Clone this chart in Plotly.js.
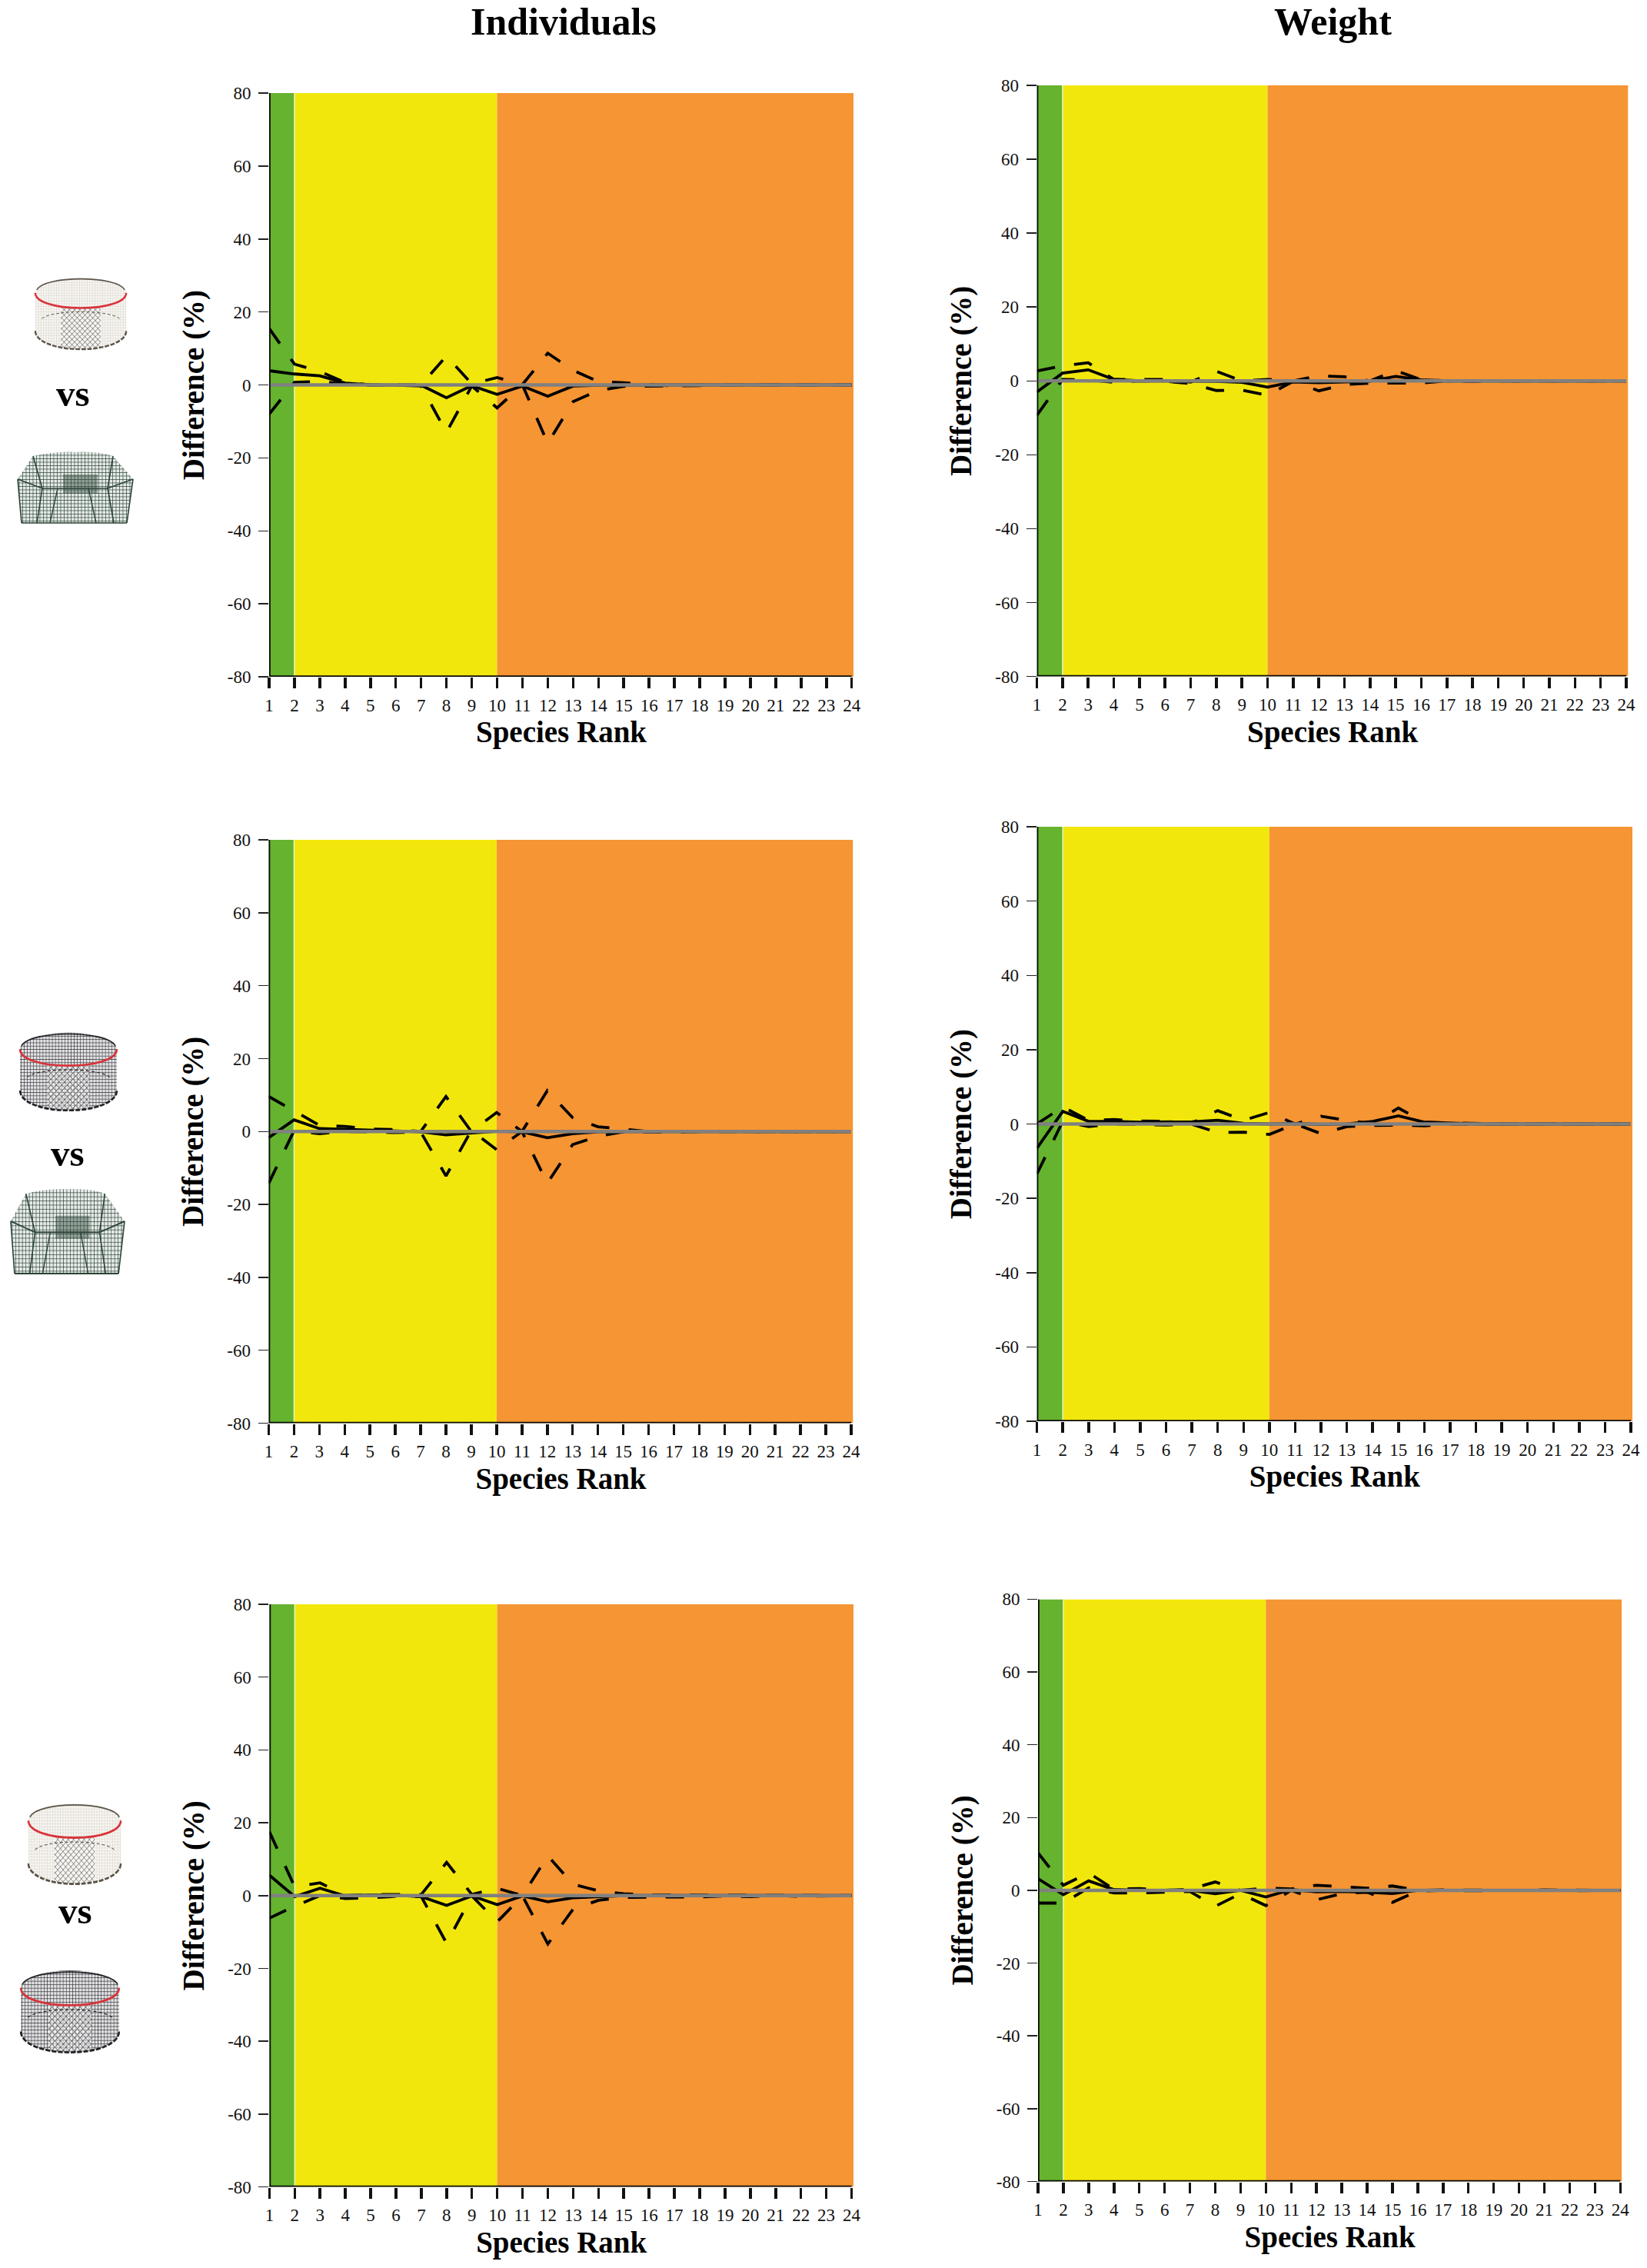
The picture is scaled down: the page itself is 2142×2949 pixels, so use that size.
<!DOCTYPE html>
<html><head><meta charset="utf-8">
<script src="https://cdn.plot.ly/plotly-3.0.1.min.js"></script>
<style>html,body{margin:0;padding:0;background:#fff}</style></head>
<body><div id="chart" style="width:2142px;height:2949px"></div>
<script>
// Data: difference (%) by species rank
var ranks = [1,2,3,4,5,6,7,8,9,10,11,12,13,14,15,16,17,18,19,20,21,22,23,24];
var yTicks = [-80,-60,-40,-20,0,20,40,60,80];
var bandEdges = [1,2,10,24];
var bandColors = ['#65B32E','#F2E70C','#F59533'];

var ind1Mean  = [3.9,3.0,2.5,0.5,0,0,-0.1,-3.5,-0.2,-2.6,-0.3,-3.1,-0.3,-0.1,0,0,0,0,0,0,0,0,0,0];
var ind1Upper = [15.5,5.7,3.7,0.7,0,0.1,0,7.9,0.3,2.0,0.1,8.7,4.0,0.9,0.6,0.1,-0.3,0,0.1,0,0,0,0,0];
var ind1Lower = [-8,0.7,1.0,0.2,-0.1,0,-0.3,-13,-0.3,-6.3,0,-16,-4.6,-1.5,-0.4,-0.3,-0.3,-0.1,0,0,0,0,0,0];

var wt1Mean  = [-3,2.1,3,0.4,0,0,0,-0.1,-0.4,-1.7,-0.3,-0.5,-0.3,-0.1,1.2,0.3,0,0,0,0,0,0,0,0];
var wt1Upper = [2.7,4.1,4.9,0.4,0.4,0.4,-0.3,2.6,0,0.4,0,1.4,1.1,0,2.8,0.3,0,0.1,0,0,0,0,0,0];
var wt1Lower = [-9.3,0.4,0.3,-0.4,0,-0.1,-0.7,-2.6,-2.5,-3.9,-0.1,-2.7,-1,-0.6,-0.6,-0.6,0,-0.1,0,0,0,0,0,0];

var ind2Mean  = [-1.7,3.2,0.8,0.6,0.3,0.2,-0.1,-0.9,-0.4,0.1,-0.1,-1.7,-0.6,-0.1,0,0,0,0,0,0,0,0,0,0];
var ind2Upper = [9.6,5.6,1.7,1.4,0.7,0.5,0,9.6,0,5.2,0,11.2,3.8,1.3,0.6,0,0.1,0,0.1,0,0,0,0,0];
var ind2Lower = [-14.2,0.2,-0.6,0,-0.1,-0.3,-0.1,-12.2,0.3,-5,0,-14.2,-3.6,-1.3,-0.1,-0.2,-0.2,0,0,0,0,0,0,0];

var wt2Mean  = [-6.5,3.4,0.7,0.7,0.5,0.5,0.6,1,0.2,0,0.1,-0.1,0,0.7,2.2,0.5,0.3,0,0,0,0,0,0,0];
var wt2Upper = [0,4.6,1,1.2,0.8,0.7,0.3,3.6,1,3.1,0,2.1,1,0.1,4.3,0.5,0.3,0.1,0,0,0.1,0,0,0];
var wt2Lower = [-13.4,0.7,-0.7,0,-0.1,-0.3,-0.1,-2.3,-2.2,-2.8,0,-2.6,-0.7,-0.4,-0.3,-0.5,0,-0.1,0,0,0,0,0,0];

var ind3Mean  = [5.6,-0.3,2,-0.1,0.2,0.1,-0.3,-2.7,-0.1,-2.5,-0.1,-1.7,-0.6,-0.2,0,0,0,0,0,0,0,0,0,0];
var ind3Upper = [17.5,2.4,3.5,0,0.3,0.3,0.3,9.1,0.3,2,0,10.9,3.1,1.3,0.5,0.2,0.2,0.1,0.1,0,0,0,0,0];
var ind3Lower = [-6.2,-2.9,0,-0.8,-0.6,-0.2,-0.3,-13.1,-0.1,-7.2,-0.1,-13.3,-3.7,-1.3,-0.5,-0.4,-0.4,-0.4,-0.1,-0.3,0,-0.2,0,0];

var wt3Mean  = [3.2,-1.2,2.6,0.2,0,0,0,-0.9,0,-1.8,0.2,-0.4,-0.3,-0.5,-0.9,0,0,0,0,0,0,0,0,0];
var wt3Upper = [10.3,1.4,4.8,0.3,0.5,0,0.3,2.3,0,0.6,0.4,1.4,1,0.6,1.2,0,0.1,0,0.1,0,0.1,0,0,0];
var wt3Lower = [-3.5,-3.5,0.7,-0.7,-0.7,-0.6,-0.3,-4.4,-0.9,-4.2,0,-2.6,-0.9,-0.5,-3.3,-0.2,0,-0.1,0,-0.1,0,-0.1,0,0];

// Panel geometry in page pixels: left (rank 1), rank 24, band right edge, top, bottom
var panels = [
 {mean:ind1Mean,up:ind1Upper,lo:ind1Lower,box:[350,1107.7,1110,121,880]},
 {mean:wt1Mean, up:wt1Upper, lo:wt1Lower, box:[1348.6,2115,2117.5,111,879.5]},
 {mean:ind2Mean,up:ind2Upper,lo:ind2Lower,box:[349.5,1107,1109.5,1092,1850.5]},
 {mean:wt2Mean, up:wt2Upper, lo:wt2Lower, box:[1348.6,2121,2123,1075,1848]},
 {mean:ind3Mean,up:ind3Upper,lo:ind3Lower,box:[350.4,1107.5,1110,2086,2843.5]},
 {mean:wt3Mean, up:wt3Upper, lo:wt3Lower, box:[1350,2107.3,2109.3,2079.4,2836.5]}
];

var W=2142,H=2949,SERIF='"Liberation Serif","Times New Roman",serif';
var traces=[],layout={width:W,height:H,margin:{l:0,r:0,t:0,b:0,pad:0},paper_bgcolor:'#fff',plot_bgcolor:'#fff',showlegend:false,shapes:[],annotations:[],images:[]};
var zeros=ranks.map(function(){return 0;});
var DASH='24px,25px';

panels.forEach(function(p,i){
  var n=i+1,xa='x'+n,ya='y'+n,b=p.box;
  var xMax=24+(b[2]-b[1])/((b[1]-b[0])/23);
  layout['xaxis'+n]={anchor:ya,domain:[b[0]/W,b[2]/W],range:[1,xMax],tickmode:'array',tickvals:ranks,ticktext:ranks.map(String),
    ticks:'outside',ticklen:14,tickwidth:3.5,tickcolor:'#111',showline:false,zeroline:false,showgrid:false,ticklabelstandoff:2,
    tickfont:{family:SERIF,size:23,color:'#111'},tickangle:0,title:{text:'Species Rank',font:{family:SERIF,size:39,color:'#000',weight:'bold'},standoff:9}};
  layout['yaxis'+n]={anchor:xa,domain:[1-b[4]/H,1-b[3]/H],range:[-80,80],tickmode:'array',tickvals:yTicks,ticktext:yTicks.map(String),
    ticks:'outside',ticklen:13,tickwidth:1.5,tickcolor:'#222',showline:false,zeroline:false,showgrid:false,ticklabelstandoff:5,
    tickfont:{family:SERIF,size:23,color:'#111'},title:{text:'Difference (%)',font:{family:SERIF,size:39,color:'#000',weight:'bold'},standoff:18}};
  bandColors.forEach(function(c,k){
    var right = k===bandColors.length-1 ? xMax : bandEdges[k+1];
    layout.shapes.push({type:'rect',layer:'below',xref:xa,yref:ya,x0:bandEdges[k],x1:right,y0:-80,y1:80,fillcolor:c,line:{width:0}});
  });
  layout.shapes.push({type:'line',layer:'below',xref:xa,yref:ya,x0:bandEdges[1],x1:bandEdges[1],y0:-80,y1:80,line:{color:'#E8F3C0',width:1.5}});
  traces.push({type:'scatter',mode:'lines',x:ranks,y:p.up,xaxis:xa,yaxis:ya,line:{color:'#000',width:3.8,dash:DASH},cliponaxis:true,name:'Upper CI'});
  traces.push({type:'scatter',mode:'lines',x:ranks,y:p.lo,xaxis:xa,yaxis:ya,line:{color:'#000',width:3.8,dash:DASH},cliponaxis:true,name:'Lower CI'});
  traces.push({type:'scatter',mode:'lines',x:ranks,y:p.mean,xaxis:xa,yaxis:ya,line:{color:'#000',width:3.8},cliponaxis:true,name:'Difference'});
  traces.push({type:'scatter',mode:'lines',x:ranks,y:zeros,xaxis:xa,yaxis:ya,line:{color:'#808080',width:4.5},cliponaxis:false,name:'Zero'});
  // axis lines centred on rank 1 and on -80, as in the reference
  traces.push({type:'scatter',mode:'lines',x:[1,1],y:[80,-80],xaxis:xa,yaxis:ya,line:{color:'#0a0a0a',width:3.6},cliponaxis:false,name:'Y axis'});
  traces.push({type:'scatter',mode:'lines',x:[1,24],y:[-80,-80],xaxis:xa,yaxis:ya,line:{color:'#0a0a0a',width:3.4},cliponaxis:false,name:'X axis'});
});

function note(text,x,y,size){
  layout.annotations.push({xref:'paper',yref:'paper',x:x/W,y:1-y/H,text:'<b>'+text+'</b>',showarrow:false,xanchor:'center',yanchor:'middle',
    font:{family:SERIF,size:size,color:'#000'}});
}
note('Individuals',733,28,50);
note('Weight',1733,28,50);
note('vs',95,511,49);
note('vs',88,1499,49);
note('vs',98,2484,49);

// Trap pictures, drawn as small SVG icons
function trapSvg(kind){
  var s;
  if(kind==='square'){
    var g='#2c4438';
    s='<svg xmlns="http://www.w3.org/2000/svg" viewBox="0 0 155 98"><defs><pattern id="m" width="4.5" height="4.5" patternUnits="userSpaceOnUse"><path d="M0 0H4.5M0 0V4.5" stroke="'+g+'" stroke-width="1.3" fill="none"/></pattern></defs>'+
      '<path d="M3 36L23 6Q50 0 78 1Q110 0 127 6L153 36L145 93L8 93Z" fill="#e6ebe7"/><path d="M3 36L23 6Q50 0 78 1Q110 0 127 6L153 36L145 93L8 93Z" fill="url(#m)"/>'+
      '<path d="M3 36L35 48L120 48L153 36M35 48L28 93M120 48L128 93M8 93H145M3 36L8 93M153 36L145 93M23 6L35 48M127 6L120 48" stroke="'+g+'" stroke-width="1.6" fill="none"/>'+
      '<path d="M62 30h45v25h-45z" fill="'+g+'" opacity=".45"/><path d="M55 48L45 93M95 48L105 93" stroke="'+g+'" stroke-width="1.4" fill="none"/></svg>';
  } else {
    var dark=kind==='dark',c=dark?'#2f2f35':'#d3cec4',bg=dark?'#e2e2e4':'#f8f6f2',r=dark?'#222226':'#5b5349';
    s='<svg xmlns="http://www.w3.org/2000/svg" viewBox="0 0 130 105"><defs><pattern id="m" width="'+(dark?4:3.5)+'" height="'+(dark?4:3.5)+'" patternUnits="userSpaceOnUse"><path d="M0 0H4M0 0V4" stroke="'+c+'" stroke-width="'+(dark?1.1:0.9)+'" fill="none"/></pattern>'+
      '<pattern id="d" width="5" height="5" patternUnits="userSpaceOnUse" patternTransform="rotate(45)"><path d="M0 0H5M0 0V5" stroke="'+(dark?'#222':'#45453f')+'" stroke-width="1" fill="none"/></pattern></defs>'+
      '<path d="M3 28V78C3 92 30 102 65 102S127 92 127 78V28Z" fill="'+bg+'"/><path d="M3 28V78C3 92 30 102 65 102S127 92 127 78V28Z" fill="url(#m)"/>'+
      '<ellipse cx="65" cy="28" rx="62" ry="20" fill="'+bg+'"/><ellipse cx="65" cy="28" rx="62" ry="20" fill="url(#m)"/>'+
      '<path d="M38 47Q65 50 92 47V100Q65 103 38 100Z" fill="#fff" opacity=".5"/><path d="M38 47Q65 50 92 47V100Q65 103 38 100Z" fill="url(#d)"/>'+
      '<path d="M3 78C3 92 30 102 65 102S127 92 127 78" fill="none" stroke="'+r+'" stroke-width="2.5" stroke-dasharray="6 2"/>'+
      '<path d="M12 62C25 50 105 50 118 62" fill="none" stroke="'+r+'" stroke-width="1" stroke-dasharray="4 3"/>'+
      '<path d="M5 24C15 5 115 5 125 24" fill="none" stroke="'+r+'" stroke-width="1.6"/>'+
      '<path d="M3 28C3 40 30 48 65 48S127 40 127 28" fill="none" stroke="#d8333a" stroke-width="2.6"/></svg>';
  }
  return 'data:image/svg+xml;charset=utf-8,'+encodeURIComponent(s);
}
function pic(kind,l,r,t,b){
  layout.images.push({source:trapSvg(kind),xref:'paper',yref:'paper',x:l/W,y:1-t/H,sizex:(r-l)/W,sizey:(b-t)/H,xanchor:'left',yanchor:'top',sizing:'stretch',layer:'above'});
}
pic('white',43,167,353,457); pic('square',20,175,587,685);
pic('dark',23,155,1334,1447); pic('square',11,164,1545,1662);
pic('white',34,160,2336,2453); pic('dark',24,158,2553,2672);

Plotly.newPlot('chart',traces,layout,{staticPlot:true,displayModeBar:false});
</script></body></html>
